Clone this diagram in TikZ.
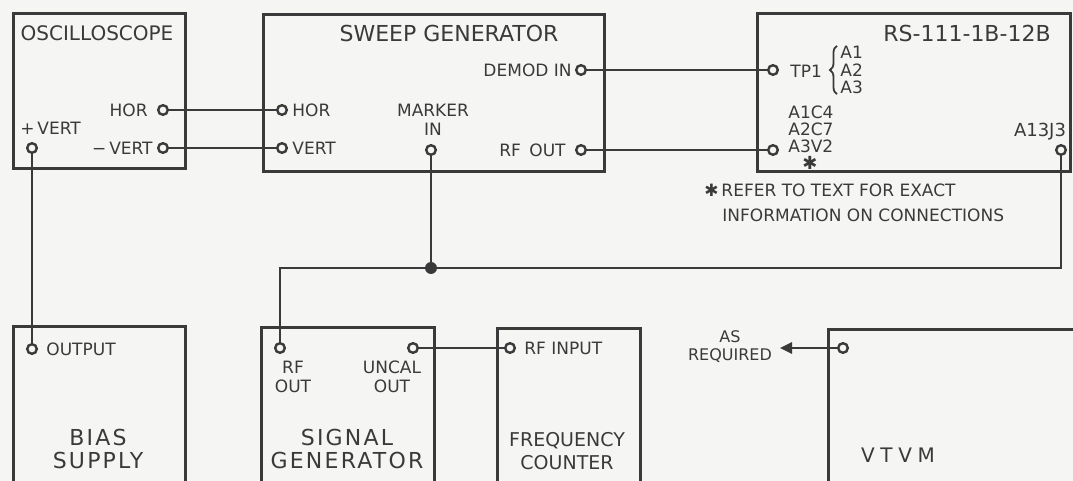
\documentclass[tikz,border=0pt]{standalone}
\usepackage{fontspec}
\setmainfont{DejaVu Sans}
\newfontfamily\widefont[LetterSpace=10]{DejaVu Sans}
\newfontfamily\widerfont[LetterSpace=28]{DejaVu Sans}
\usetikzlibrary{arrows.meta,decorations.pathreplacing}

\definecolor{ink}{RGB}{58,58,58}
\definecolor{paper}{RGB}{245,245,243}

\tikzset{
  unit/.style={draw=ink,line width=1.4pt,rectangle,anchor=north west,inner sep=0pt},
  term/.style={circle,draw=ink,fill=paper,line width=1.2pt,inner sep=0pt,minimum size=4.8pt},
  wire/.style={draw=ink,line width=1.25pt},
  junc/.style={circle,fill=ink,inner sep=0pt,minimum size=6pt},
  lbl/.style={text=ink,inner sep=0pt,align=center,font=\fontsize{8.5}{9.5}\selectfont},
  title/.style={text=ink,inner sep=0pt,align=center,font=\fontsize{11}{11.5}\selectfont},
  wtitle/.style={title,font=\widefont\fontsize{11}{11.5}\selectfont},
}

\begin{document}
\begin{tikzpicture}[x=0.5pt,y=-0.5pt]
\useasboundingbox (0,0) rectangle (1073,481);
\fill[paper] (0,0) rectangle (1073,481);
\clip (0,0) rectangle (1073,481);

% instruments
\node[unit,minimum width=86pt,minimum height=77.5pt] (osc) at (12,12) {};
\node[unit,minimum width=170.5pt,minimum height=78.5pt] (sweep) at (262,13) {};
\node[unit,minimum width=156.5pt,minimum height=79pt] (rs) at (756,12) {};
\node[unit,minimum width=86pt,minimum height=90pt] (bias) at (12,325) {};
\node[unit,minimum width=86.5pt,minimum height=90pt] (siggen) at (260,326) {};
\node[unit,minimum width=71.5pt,minimum height=90pt] (counter) at (496,327) {};
\node[unit,minimum width=140pt,minimum height=90pt] (vtvm) at (827,328) {};

\node[title,font=\fontsize{10}{12}\selectfont] (oscT) at (97,33) {OSCILLOSCOPE};
\node[title] (sweepT) at (449,33) {SWEEP GENERATOR};
\node[title] (rsT) at (967,33) {RS-111-1B-12B};
\node[wtitle] (biasT) at (98,448.5) {BIAS\\SUPPLY};
\node[wtitle] (siggenT) at (347,448.5) {SIGNAL\\GENERATOR};
\node[title,font=\fontsize{9.5}{11.5}\selectfont] (counterT) at (567,451.5) {FREQUENCY\\COUNTER};
\node[title,font=\widerfont\fontsize{10}{12}\selectfont] (vtvmT) at (898,455) {VTVM};

% terminals
\node[term] (oscHor) at (163,110) {};
\node[term] (oscNVert) at (163,148) {};
\node[term] (oscPVert) at (32,148) {};
\node[term] (swHor) at (282,110) {};
\node[term] (swVert) at (282,148) {};
\node[term] (swMark) at (431,150) {};
\node[term] (swDemod) at (581,70) {};
\node[term] (swRF) at (581,150) {};
\node[term] (rsTP) at (773,70) {};
\node[term] (rsA3V2) at (773,150) {};
\node[term] (rsJ3) at (1061,150) {};
\node[term] (biasOut) at (32,349) {};
\node[term] (sgRF) at (280,348) {};
\node[term] (sgUncal) at (413,348) {};
\node[term] (ctIn) at (510,348) {};
\node[term] (vmOut) at (843,348) {};
\node[junc] (jn) at (431,268) {};
\coordinate (req) at (780,348);

% terminal labels
\node[lbl,anchor=east] (oscHorL) at (148,110) {HOR};
\node[lbl,anchor=east] (oscNVertL) at (153,148) {−\,VERT};
\node[lbl,anchor=west] (oscPVertL) at (20,128) {+\,VERT};
\node[lbl,anchor=west] (swHorL) at (292,110) {HOR};
\node[lbl,anchor=west] (swVertL) at (292,148) {VERT};
\node[lbl] (swMarkL) at (433,120) {MARKER\\IN};
\node[lbl,anchor=east] (swDemodL) at (572,70) {DEMOD IN};
\node[lbl,anchor=east] (swRFL) at (566,150) {RF\enspace OUT};
\node[lbl,anchor=west] (rsTPL) at (790,71) {TP1};
\node[lbl,anchor=west,align=left,font=\fontsize{8.5}{8.75}\selectfont] (rsA) at (840,70) {A1\\A2\\A3};
\draw[ink,line width=0.9pt,decorate,decoration={brace,amplitude=3.5pt}]
  ([xshift=-1.5pt]rsA.south west) -- ([xshift=-1.5pt]rsA.north west);
\node[lbl,anchor=west,align=left,font=\fontsize{8.5}{8.5}\selectfont] (rsCL) at (788,129) {A1C4\\A2C7\\A3V2};
\node[lbl,font=\fontsize{9}{9}\selectfont] (star) at (810,163) {✱};
\node[lbl,font=\fontsize{9}{9}\selectfont] (rsJ3L) at (1040,132) {A13J3};
\node[lbl,anchor=west] (noteA) at (704,190) {✱\,REFER TO TEXT FOR EXACT};
\node[lbl,anchor=west] (noteB) at (722,215) {INFORMATION ON CONNECTIONS};
\node[lbl,anchor=west] (biasOutL) at (46,349) {OUTPUT};
\node[lbl] (sgRFL) at (293,376.5) {RF\\OUT};
\node[lbl] (sgUncalL) at (392,376.5) {UNCAL\\OUT};
\node[lbl,anchor=west] (ctInL) at (524,348) {RF INPUT};
\node[lbl,font=\fontsize{8}{9}\selectfont] (reqL) at (730,347) {AS\\REQUIRED};

% cabling
\draw[wire] (oscHor) -- (swHor);
\draw[wire] (oscNVert) -- (swVert);
\draw[wire] (oscPVert) -- (biasOut);
\draw[wire] (swDemod) -- (rsTP);
\draw[wire] (swRF) -- (rsA3V2);
\draw[wire] (swMark) -- (jn);
\draw[wire] (jn) -| (sgRF);
\draw[wire] (jn) -| (rsJ3);
\draw[wire] (sgUncal) -- (ctIn);
\draw[wire,-{Triangle[length=6pt,width=5.5pt]}] (vmOut) -- (req);
\end{tikzpicture}
\end{document}
